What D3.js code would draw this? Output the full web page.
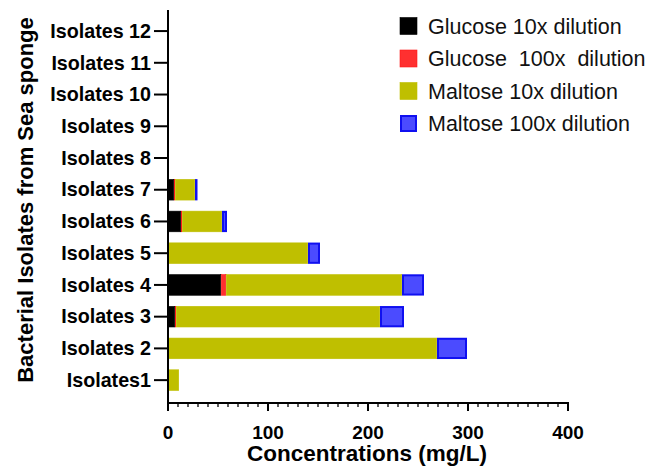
<!DOCTYPE html>
<html><head><meta charset="utf-8">
<script src="https://cdn.jsdelivr.net/npm/d3@7"></script>
<style>body{margin:0;background:#fff}svg{display:block}text{font-family:"Liberation Sans",Arial,sans-serif}</style>
</head><body><svg id="c" width="647" height="467"></svg>
<script>
const categories = ["Isolates1","Isolates 2","Isolates 3","Isolates 4","Isolates 5","Isolates 6","Isolates 7","Isolates 8","Isolates 9","Isolates 10","Isolates 11","Isolates 12"];
const seriesNames = ["Glucose 10x dilution","Glucose  100x  dilution","Maltose 10x dilution","Maltose 100x dilution"];
const glucose10 = [0,0,7,53,0,13,6,0,0,0,0,0];
const glucose100 = [0,0,1,5,0,1,1,0,0,0,0,0];
const maltose10 = [11,269,204,176,140,40,20,0,0,0,0,0];
const maltose100 = [0,30,24,22,12,5,2.5,0,0,0,0,0];
const xTicks = [0,100,200,300,400];

const fills = ["#000000","#ff3030","#bfbf00","#4b4bff"];
const strokes = ["#000000","#ff1a1a","#bfbf00","#1010f0"];
const series = [glucose10,glucose100,maltose10,maltose100];

const svg = d3.select("#c");
const x = d3.scaleLinear().domain([0,400]).range([168,568]);
const y = d3.scaleBand().domain(categories.slice().reverse()).range([15.2,396]).paddingInner(0.33).paddingOuter(0.165);

// stacked
const rows = categories.map((c,i)=>{const o={cat:c};series.forEach((s,j)=>o["s"+j]=s[i]);return o;});
const stack = d3.stack().keys(series.map((s,j)=>"s"+j))(rows);
stack.forEach((layer,j)=>{
  svg.append("g").selectAll("rect").data(layer.filter(d=>d[1]-d[0]>0)).join("rect")
    .attr("x",d=>x(d[0])+(j==3?1:0.3))
    .attr("y",d=>y(d.data.cat)+(j==3?1:0.3))
    .attr("width",d=>Math.max(0,x(d[1])-x(d[0])-(j==3?2:0.6)))
    .attr("height",y.bandwidth()-(j==3?2:0.6))
    .attr("fill",fills[j]).attr("stroke",strokes[j]).attr("stroke-width",j==3?2:0.6);
});

// axes
const ax = svg.append("g");
ax.append("line").attr("x1",168).attr("x2",168).attr("y1",10).attr("y2",404).attr("stroke","#000").attr("stroke-width",2);
ax.append("line").attr("x1",167).attr("x2",569).attr("y1",403).attr("y2",403).attr("stroke","#000").attr("stroke-width",2);
d3.range(0,401,10).forEach(v=>{
  const major = v%100===0;
  ax.append("line").attr("x1",x(v)).attr("x2",x(v)).attr("y1",403).attr("y2",major?411:407).attr("stroke","#000").attr("stroke-width",major?2:1.3);
});
xTicks.forEach(v=>{
  ax.append("text").attr("x",x(v)).attr("y",439).attr("text-anchor","middle").attr("font-size",19).attr("font-weight","bold").text(v);
});
categories.forEach(c=>{
  const cy = y(c)+y.bandwidth()/2;
  ax.append("line").attr("x1",154).attr("x2",168).attr("y1",cy).attr("y2",cy).attr("stroke","#000").attr("stroke-width",2);
  ax.append("text").attr("x",151).attr("y",cy+6.7).attr("text-anchor","end").attr("font-size",19.7).attr("font-weight","bold").text(c);
});
svg.append("text").attr("x",367).attr("y",461).attr("text-anchor","middle").attr("font-size",22.5).attr("font-weight","bold").text("Concentrations (mg/L)");
svg.append("text").attr("transform","translate(33,200) rotate(-90)").attr("text-anchor","middle").attr("font-size",22).attr("font-weight","bold").text("Bacterial Isolates from Sea sponge");

// legend
const leg = svg.append("g");
seriesNames.forEach((n,j)=>{
  const ly = 26+j*32.5;
  leg.append("rect").attr("x",j==3?401:400).attr("y",ly-8.5+(j==3?1:0)).attr("width",j==3?15:17).attr("height",j==3?15:17)
    .attr("fill",fills[j]).attr("stroke",strokes[j]).attr("stroke-width",j==3?2:0.6);
  leg.append("text").attr("x",428).attr("y",ly+7.5).attr("font-size",21.5).attr("xml:space","preserve").style("white-space","pre").attr("fill","#111").text(n);
});
</script></body></html>
